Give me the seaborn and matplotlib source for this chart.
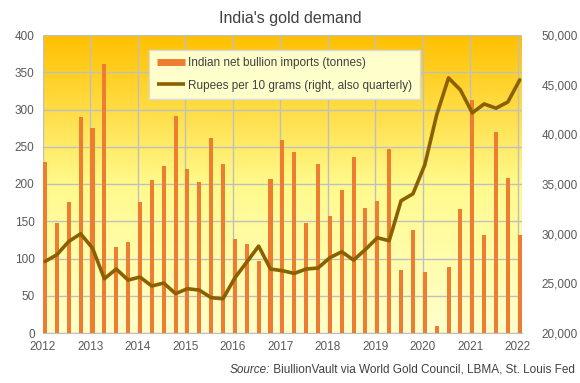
import seaborn as sns
import pandas as pd
import numpy as np
import matplotlib
matplotlib.use("Agg")
import matplotlib.pyplot as plt
from matplotlib.ticker import FuncFormatter, MultipleLocator
from matplotlib.lines import Line2D

# quarterly data, 2012 Q1 .. 2022 Q1
years = [2012, 2013, 2014, 2015, 2016, 2017, 2018, 2019, 2020, 2021, 2022]
tonnes = [229, 147, 176, 290,
          275, 361, 116, 122,
          176, 206, 224, 291,
          220, 203, 262, 227,
          126, 120, 96, 207,
          259, 243, 148, 227,
          157, 192, 236, 168,
          177, 247, 84, 138,
          82, 10, 89, 167,
          313, 132, 270, 208,
          132]
rupees = [27200, 27880, 29220, 29990,
          28550, 25460, 26440, 25330,
          25630, 24730, 25030, 23960,
          24460, 24320, 23550, 23450,
          25560, 27140, 28750, 26440,
          26270, 26000, 26440, 26540,
          27580, 28180, 27340, 28410,
          29590, 29290, 33310, 34010,
          36930, 41960, 45680, 44470,
          42160, 43060, 42630, 43260,
          45480]

bar_w = 0.085
quarter = [years[0] + i * 0.25 + bar_w / 2 for i in range(len(tonnes))]
df = pd.DataFrame({"quarter": quarter, "tonnes": tonnes, "rupees": rupees})

sns.set_style("white")
plt.rcParams["font.family"] = ["Liberation Sans", "DejaVu Sans"]

txt = "#595959"
grid_c = "#BFBFBF"
bar_c = "#ED7D31"
line_c = "#8B6000"

fig = plt.figure(figsize=(5.8, 3.83), dpi=100)
ax = fig.add_axes([43 / 580, 1 - 333 / 383, (522 - 43) / 580, (333 - 35) / 383])

# gradient background (top -> bottom)
t = np.linspace(0, 1, 256)
stops = [0, 0.5, 1]
cols = np.array([[255, 192, 0], [255, 250, 140], [255, 255, 204]]) / 255
img = np.stack([np.interp(t, stops, cols[:, k]) for k in range(3)], axis=-1)[:, None, :]
ax.imshow(img, extent=[0, 1, 0, 1], transform=ax.transAxes, aspect="auto", zorder=0)

sns.barplot(data=df, x="quarter", y="tonnes", native_scale=True, width=0.34,
            color=bar_c, saturation=1, edgecolor="none", ax=ax, zorder=3)

ax.set_xlim(2012, 2022.09)
ax.set_ylim(0, 400)
ax.yaxis.set_major_locator(MultipleLocator(50))
ax.set_xticks(years)
ax.set_xticklabels([str(y) for y in years])
ax.grid(True, color=grid_c, lw=1, zorder=1)
ax.set_axisbelow(True)
ax.set_xlabel("")
ax.set_ylabel("")
for s in ["top", "left", "right"]:
    ax.spines[s].set_visible(False)
ax.spines["bottom"].set_color(grid_c)
ax.tick_params(axis="x", colors=grid_c, length=4, labelcolor=txt, labelsize=8.5, pad=2)
ax.tick_params(axis="y", length=0, labelcolor=txt, labelsize=8.5, pad=6)

ax2 = ax.twinx()
sns.lineplot(data=df, x="quarter", y="rupees", color=line_c, lw=2.6, ax=ax2, zorder=4)
ax2.set_ylim(20000, 50000)
ax2.yaxis.set_major_locator(MultipleLocator(5000))
ax2.yaxis.set_major_formatter(FuncFormatter(lambda v, p: f"{int(v):,}"))
ax2.set_xlim(2012, 2022.09)
ax2.set_ylabel("")
ax2.set_xlabel("")
for s in ax2.spines.values():
    s.set_visible(False)
ax2.tick_params(axis="y", length=0, labelcolor=txt, labelsize=8.5, pad=14)

handles = [Line2D([0], [0], color=bar_c, lw=5, solid_capstyle="butt"),
           Line2D([0], [0], color=line_c, lw=2.6, solid_capstyle="butt")]
labels = ["Indian net bullion imports (tonnes)",
          "Rupees per 10 grams (right, also quarterly)"]
leg = ax2.legend(handles, labels, loc="upper left", bbox_to_anchor=(0.21, 0.97),
                 fontsize=8.5, frameon=True, fancybox=False, handlelength=2.4,
                 labelspacing=0.9, borderpad=0.6, handletextpad=0.3)
leg.get_frame().set_facecolor("#FFFFCC")
leg.get_frame().set_edgecolor("#D9D9D9")
leg.get_frame().set_alpha(1)
for tx in leg.get_texts():
    tx.set_color("#404040")

fig.text(0.5, 1 - 18 / 383, "India's gold demand", ha="center", va="center",
         fontsize=11.5, color="#404040")

# source line: italic "Source:" followed by plain text
src = fig.text(575 / 580, 1 - 370 / 383,
               " BiullionVault via World Gold Council, LBMA, St. Louis Fed",
               ha="right", va="center", fontsize=8.5, color="#404040")
fig.canvas.draw()
bb = src.get_window_extent()
fig.text(bb.x0 / fig.bbox.width, 1 - 370 / 383, "Source:", ha="right", va="center",
         fontsize=8.5, color="#404040", style="italic")

fig.savefig("out.png", dpi=100, facecolor="white")
